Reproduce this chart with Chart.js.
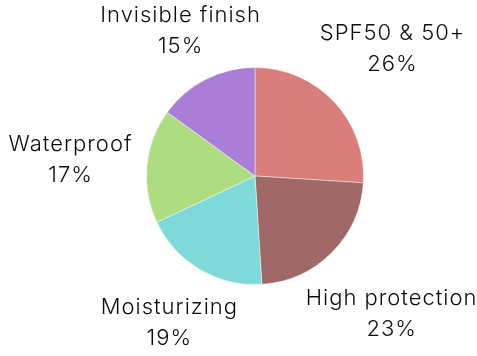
<!DOCTYPE html>
<html>
<head>
<meta charset="utf-8">
<script src="https://cdn.jsdelivr.net/npm/chart.js@4"></script>
<style>
  html, body { margin: 0; padding: 0; background: #fff; }
  #wrap { width: 477px; height: 356px; }
</style>
</head>
<body>
<div id="wrap"><canvas id="pie"></canvas></div>
<script>
const categories = ['SPF50 & 50+', 'High protection', 'Moisturizing', 'Waterproof', 'Invisible finish'];
const shares = [26, 23, 19, 17, 15];
const sliceColors = ['#D97E7B', '#A06866', '#7FD9D9', '#AEDC80', '#AA7DD7'];

// label box sits on the slice's middle ray, its nearest edge a fixed gap off the pie
const outerLabels = {
    id: 'outerLabels',
    afterDatasetsDraw(chart) {
        const ctx = chart.ctx;
        const meta = chart.getDatasetMeta(0);
        const lineH = 31;
        const capH = 16;
        const gap = 15;
        ctx.save();
        ctx.font = '300 22px Inter, Lato, sans-serif';
        ctx.letterSpacing = '1px';
        ctx.fillStyle = '#0d0d0d';
        ctx.textAlign = 'center';
        ctx.textBaseline = 'alphabetic';
        meta.data.forEach((arc, i) => {
            const mid = (arc.startAngle + arc.endAngle) / 2;
            const c = Math.cos(mid), s = Math.sin(mid);
            const lines = [categories[i], shares[i] + '%'];
            const hw = (Math.max(...lines.map(t => ctx.measureText(t).width)) - 1) / 2;
            const hh = (lineH + capH) / 2;
            const target = arc.outerRadius + gap;
            const distAt = d => {
                const bx = c * d, by = s * d;
                const dx = Math.max(bx - hw, 0, -(bx + hw));
                const dy = Math.max(by - hh, 0, -(by + hh));
                return Math.hypot(dx, dy);
            };
            let lo = 0, hi = 500;
            for (let k = 0; k < 40; k++) {
                const m = (lo + hi) / 2;
                if (distAt(m) < target) lo = m; else hi = m;
            }
            const cx = arc.x + c * lo;
            const cy = arc.y + s * lo;
            const top = cy - hh;
            lines.forEach((t, k) => {
                ctx.fillText(t, cx + 0.5, top + capH + lineH * k);
            });
        });
        ctx.restore();
    }
};

const ctx = document.getElementById('pie').getContext('2d');
const pieChart = new Chart(ctx, {
    type: 'pie',
    data: {
        labels: categories,
        datasets: [{
            data: shares,
            backgroundColor: sliceColors,
            borderColor: 'rgba(255,255,255,0.45)',
            borderWidth: 1
        }]
    },
    options: {
        responsive: true,
        maintainAspectRatio: false,
        animation: false,
        layout: {
            padding: { left: 146, right: 113, top: 66, bottom: 70 }
        },
        plugins: {
            legend: { display: false },
            tooltip: { enabled: false }
        }
    },
    plugins: [outerLabels]
});
</script>
</body>
</html>
